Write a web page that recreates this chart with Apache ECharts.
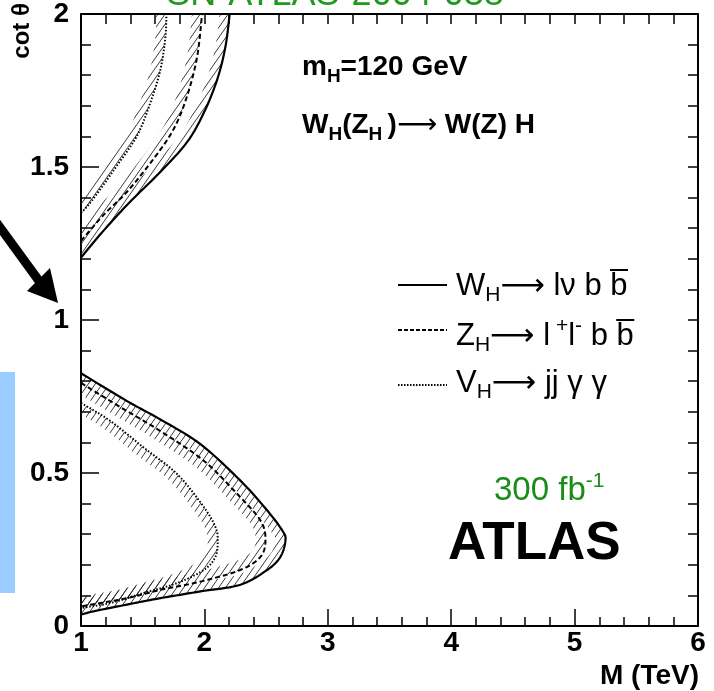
<!DOCTYPE html>
<html><head><meta charset="utf-8">
<script src="https://cdn.jsdelivr.net/npm/echarts@6/dist/echarts.min.js"></script>
<style>html,body{margin:0;padding:0;background:#fff;}#c{width:714px;height:691px;}</style>
</head><body><div id="c"></div>
<script>
// ---- data (M in TeV, cot theta) ----
const wUpper = [[1.0,1.204],[1.157,1.280],[1.373,1.376],[1.643,1.484],[1.859,1.581],[1.995,1.677],[2.103,1.785],[2.170,1.892],[2.205,2.0]];
const zUpper = [[1.0,1.258],[1.184,1.344],[1.373,1.419],[1.589,1.527],[1.751,1.624],[1.859,1.731],[1.941,1.860],[1.981,2.0]];
const vUpper = [[1.0,1.349],[1.103,1.398],[1.292,1.505],[1.454,1.602],[1.562,1.710],[1.643,1.817],[1.684,1.925],[1.692,2.0]];
const wLower = [[1.0,0.826],[1.373,0.735],[1.643,0.675],[1.968,0.594],[2.292,0.475],[2.508,0.378],[2.630,0.313],[2.657,0.281],[2.616,0.226],[2.508,0.183],[2.292,0.135],[1.968,0.113],[1.643,0.091],[1.373,0.070],[1.103,0.048],[1.0,0.037]];
const zLower = [[1.0,0.794],[1.320,0.715],[1.643,0.637],[1.995,0.540],[2.265,0.432],[2.454,0.345],[2.495,0.281],[2.454,0.226],[2.290,0.183],[1.968,0.145],[1.643,0.118],[1.373,0.091],[1.0,0.064]];
const vLower = [[1.0,0.729],[1.238,0.670],[1.508,0.583],[1.778,0.497],[1.995,0.389],[2.089,0.324],[2.108,0.281],[2.089,0.226],[1.995,0.183],[1.778,0.140],[1.508,0.108],[1.238,0.075],[1.0,0.059]];
const xTickLabels = ['1','2','3','4','5','6'];
const yTickLabels = ['0','0.5','1','1.5','2'];

const FONT = "'Liberation Sans', Arial, 'DejaVu Sans', sans-serif";

function hatchCanvas(){
  const w=7,h=10;
  const c=document.createElement('canvas'); c.width=w; c.height=h;
  const g=c.getContext('2d');
  g.strokeStyle='#222'; g.lineWidth=0.9;
  g.beginPath();
  g.moveTo(0,h); g.lineTo(w,0);
  g.moveTo(-w,h); g.lineTo(0,0);
  g.moveTo(w,h); g.lineTo(2*w,0);
  g.stroke();
  return c;
}
const HATCH = hatchCanvas();

function spline(pts, n){
  const out=[];
  for(let i=0;i<pts.length-1;i++){
    const p0=pts[Math.max(i-1,0)], p1=pts[i], p2=pts[i+1], p3=pts[Math.min(i+2,pts.length-1)];
    for(let k=0;k<n;k++){
      const t=k/n, t2=t*t, t3=t2*t;
      const f=(a,b,c,d)=>0.5*(2*b+(-a+c)*t+(2*a-5*b+4*c-d)*t2+(-a+3*b-3*c+d)*t3);
      out.push([f(p0[0],p1[0],p2[0],p3[0]), f(p0[1],p1[1],p2[1],p3[1])]);
    }
  }
  out.push(pts[pts.length-1]);
  return out;
}

function curveSeries(data, side, dash, width){
  return {
    type:'custom', xAxisIndex:0, yAxisIndex:0, clip:true, silent:true, data:[0],
    renderItem:(params, api)=>{
      const px = data.map(p=>api.coord(p));
      const d = spline(px, 10);
      const off=[];
      const W=10;
      for(let i=0;i<d.length;i++){
        const a=d[Math.max(i-1,0)], b=d[Math.min(i+1,d.length-1)];
        let tx=b[0]-a[0], ty=b[1]-a[1]; const L=Math.hypot(tx,ty)||1; tx/=L; ty/=L;
        off.push([d[i][0]+side*(-ty)*W, d[i][1]+side*tx*W]);
      }
      const poly=d.concat(off.reverse());
      return {type:'group', children:[
        {type:'polygon', shape:{points:poly}, style:{fill:{image:HATCH, repeat:'repeat'}, stroke:null}},
        {type:'polyline', shape:{points:d}, style:{stroke:'#000', lineWidth:width, lineDash:dash, fill:null}}
      ]};
    }
  };
}

const chart = echarts.init(document.getElementById('c'), null, {renderer:'canvas'});
const axisLine = {onZero:false, lineStyle:{color:'#000', width:2}};
const tickStyle = {color:'#000', width:1.5};
const option = {
  animation:false,
  backgroundColor:'#fff',
  grid:{left:81, right:16, top:11, bottom:65},
  xAxis:[
    {type:'value', min:1, max:6, interval:1, position:'bottom', axisLine,
     axisTick:{inside:true, length:17, lineStyle:tickStyle},
     minorTick:{show:true, splitNumber:5, length:9, lineStyle:tickStyle},
     splitLine:{show:false},
     axisLabel:{fontFamily:FONT, fontWeight:'bold', fontSize:28, color:'#000', margin:3,
       formatter:(v)=>xTickLabels[Math.round(v-1)]}},
    {type:'value', min:1, max:6, interval:1, position:'top', axisLine,
     axisTick:{inside:true, length:10, lineStyle:tickStyle},
     minorTick:{show:true, splitNumber:5, length:10, lineStyle:tickStyle},
     splitLine:{show:false}, axisLabel:{show:false}}
  ],
  yAxis:[
    {type:'value', min:0, max:2, interval:0.5, position:'left', axisLine,
     axisTick:{inside:true, length:18, lineStyle:tickStyle},
     minorTick:{show:true, splitNumber:5, length:10, lineStyle:tickStyle},
     splitLine:{show:false},
     axisLabel:{fontFamily:FONT, fontWeight:'bold', fontSize:28, color:'#000', margin:12,
       formatter:(v)=>yTickLabels[Math.round(v*2)]}},
    {type:'value', min:0, max:2, interval:0.5, position:'right', axisLine,
     axisTick:{inside:true, length:10, lineStyle:tickStyle},
     minorTick:{show:true, splitNumber:5, length:10, lineStyle:tickStyle},
     splitLine:{show:false}, axisLabel:{show:false}}
  ],
  series:[
    curveSeries(wUpper,-1,null,2.2),
    curveSeries(zUpper,-1,[5,3],2),
    curveSeries(vUpper,-1,[1.5,1.8],2),
    curveSeries(wLower,1,null,2.2),
    curveSeries(zLower,1,[5,3],2),
    curveSeries(vLower,1,[1.5,1.8],2)
  ],
  graphic:[
    {type:'text', x:335, y:13, style:{text:'SN-ATLAS-2004-038', font:"36px "+FONT, fill:'#1f9a1f', align:'center', verticalAlign:'bottom'}},
    {type:'rect', shape:{x:0, y:372, width:15, height:221}, style:{fill:'#99ccff'}},
    {type:'line', shape:{x1:-4, y1:222, x2:42, y2:285}, style:{stroke:'#000', lineWidth:9}},
    {type:'polygon', shape:{points:[[58,303],[27,291],[50,268]]}, style:{fill:'#000'}},
    {type:'text', x:22, y:3, rotation:Math.PI/2, style:{text:'cot θ', font:"bold 24px "+FONT, fill:'#000', align:'right', verticalAlign:'middle'}},
    {type:'text', x:699, y:676, style:{text:'M (TeV)', font:"bold 28px "+FONT, fill:'#000', align:'right', verticalAlign:'middle'}},
    {type:'text', x:302, y:67, style:{
      text:'{b|m}{bs|H}{b|=120 GeV}', verticalAlign:'middle',
      rich:{b:{font:"bold 28px "+FONT, fill:'#000', lineHeight:38}, bs:{font:"bold 19px "+FONT, fill:'#000', lineHeight:16, verticalAlign:'bottom'}}}},
    {type:'text', x:302, y:125, style:{
      text:'{b|W}{bs|H}{b|(Z}{bs|H }{b|)}{n|⟶ }{b|W(Z) H}', verticalAlign:'middle',
      rich:{b:{font:"bold 28px "+FONT, fill:'#000', lineHeight:38}, bs:{font:"bold 19px "+FONT, fill:'#000', lineHeight:16, verticalAlign:'bottom'}, n:{font:"28px "+FONT, fill:'#000', lineHeight:38}}}},
    {type:'line', shape:{x1:398, y1:285, x2:447, y2:285}, style:{stroke:'#000', lineWidth:2}},
    {type:'line', shape:{x1:398, y1:330, x2:447, y2:330}, style:{stroke:'#000', lineWidth:2, lineDash:[4,2]}},
    {type:'line', shape:{x1:398, y1:385, x2:447, y2:385}, style:{stroke:'#000', lineWidth:2, lineDash:[1.5,1.5]}},
    {type:'text', x:456, y:286, style:{
      text:'{n|W}{s|H}{n|⟶ lν b b\u0305}', verticalAlign:'middle',
      rich:{n:{font:"31px "+FONT, fill:'#000', lineHeight:40}, s:{font:"21px "+FONT, fill:'#000', lineHeight:18, verticalAlign:'bottom'}}}},
    {type:'text', x:456, y:336, style:{
      text:'{n|Z}{s|H}{n|⟶ l}{p| +}{n|l}{p|-}{n| b b\u0305}', verticalAlign:'middle',
      rich:{n:{font:"31px "+FONT, fill:'#000', lineHeight:40}, s:{font:"21px "+FONT, fill:'#000', lineHeight:18, verticalAlign:'bottom'}, p:{font:"21px "+FONT, fill:'#000', lineHeight:18, verticalAlign:'top'}}}},
    {type:'text', x:456, y:383, style:{
      text:'{n|V}{s|H}{n|⟶ jj γ γ}', verticalAlign:'middle',
      rich:{n:{font:"31px "+FONT, fill:'#000', lineHeight:40}, s:{font:"21px "+FONT, fill:'#000', lineHeight:18, verticalAlign:'bottom'}}}},
    {type:'text', x:494, y:491, style:{
      text:'{g|300 fb}{p|-1}', verticalAlign:'middle',
      rich:{g:{font:"33px "+FONT, fill:'#1a8c1a', lineHeight:40}, p:{font:"21px "+FONT, fill:'#1a8c1a', lineHeight:20, verticalAlign:'top'}}}},
    {type:'text', x:448, y:544, style:{text:'ATLAS', font:"bold 53px "+FONT, fill:'#000', verticalAlign:'middle'}}
  ]
};
chart.setOption(option);
</script></body></html>
